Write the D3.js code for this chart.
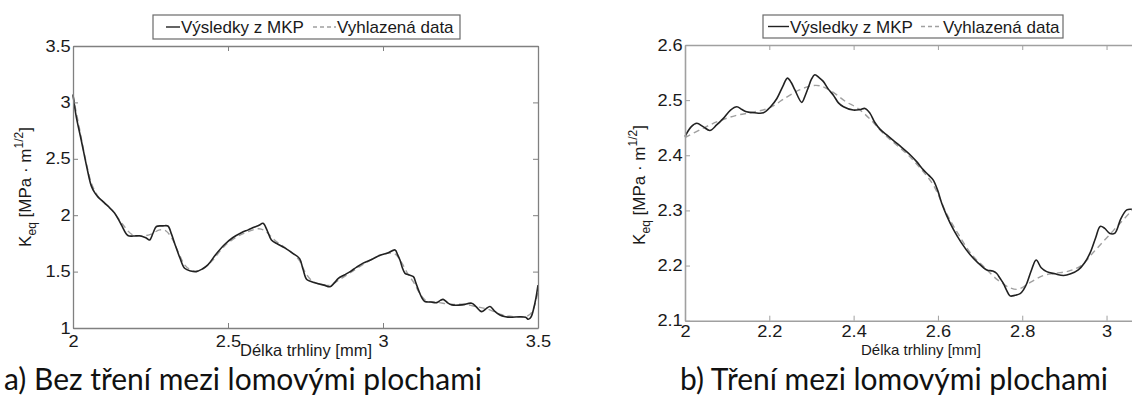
<!DOCTYPE html>
<html>
<head>
<meta charset="utf-8">
<script src="https://cdn.jsdelivr.net/npm/d3@7"></script>
<style>
  html, body { margin: 0; padding: 0; background: #fff; }
  svg { display: block; }
  .tick text { font-family: "Liberation Sans", Arial, sans-serif; fill: #1a1a1a; }
</style>
</head>
<body>
<script>
// ---- Panel a) crack length [mm] vs. K_eq, no friction ----
const lengthA = [2.000, 2.010, 2.027, 2.045, 2.059, 2.070, 2.081, 2.097, 2.113, 2.134, 2.155, 2.177, 2.195, 2.215, 2.235, 2.247, 2.258, 2.269, 2.290, 2.306, 2.318, 2.328, 2.345, 2.360, 2.380, 2.398, 2.415, 2.435, 2.460, 2.489, 2.515, 2.543, 2.565, 2.586, 2.600, 2.613, 2.627, 2.640, 2.660, 2.683, 2.710, 2.731, 2.742, 2.754, 2.770, 2.786, 2.810, 2.829, 2.843, 2.856, 2.875, 2.894, 2.915, 2.936, 2.965, 2.990, 3.015, 3.039, 3.047, 3.055, 3.063, 3.071, 3.085, 3.098, 3.106, 3.114, 3.125, 3.135, 3.155, 3.173, 3.185, 3.194, 3.210, 3.222, 3.255, 3.286, 3.300, 3.318, 3.332, 3.345, 3.360, 3.377, 3.395, 3.410, 3.442, 3.460, 3.469, 3.478, 3.485, 3.493, 3.500];
const femA = [3.07, 2.88, 2.66, 2.42, 2.26, 2.20, 2.16, 2.12, 2.08, 2.02, 1.92, 1.82, 1.815, 1.818, 1.80, 1.78, 1.84, 1.90, 1.905, 1.904, 1.83, 1.75, 1.62, 1.53, 1.505, 1.50, 1.52, 1.56, 1.65, 1.74, 1.80, 1.845, 1.87, 1.895, 1.91, 1.928, 1.86, 1.78, 1.745, 1.71, 1.66, 1.615, 1.52, 1.43, 1.41, 1.396, 1.38, 1.366, 1.40, 1.44, 1.47, 1.50, 1.54, 1.575, 1.61, 1.645, 1.665, 1.692, 1.65, 1.60, 1.53, 1.485, 1.47, 1.455, 1.40, 1.34, 1.27, 1.235, 1.23, 1.225, 1.245, 1.254, 1.22, 1.205, 1.205, 1.22, 1.19, 1.145, 1.17, 1.19, 1.15, 1.115, 1.10, 1.095, 1.10, 1.095, 1.077, 1.10, 1.16, 1.26, 1.38];
const smoothLengthA = [2.00, 2.02, 2.04, 2.06, 2.08, 2.10, 2.13, 2.16, 2.19, 2.22, 2.25, 2.28, 2.30, 2.32, 2.34, 2.36, 2.38, 2.40, 2.42, 2.45, 2.49, 2.53, 2.57, 2.60, 2.62, 2.65, 2.68, 2.71, 2.73, 2.75, 2.77, 2.80, 2.83, 2.86, 2.90, 2.94, 2.98, 3.02, 3.04, 3.06, 3.08, 3.10, 3.12, 3.14, 3.18, 3.22, 3.26, 3.30, 3.34, 3.38, 3.42, 3.46, 3.48, 3.50];
const smoothA = [3.06, 2.78, 2.50, 2.28, 2.17, 2.11, 2.03, 1.92, 1.83, 1.815, 1.83, 1.87, 1.86, 1.79, 1.67, 1.56, 1.515, 1.505, 1.525, 1.60, 1.73, 1.81, 1.86, 1.88, 1.86, 1.78, 1.72, 1.66, 1.60, 1.49, 1.42, 1.385, 1.38, 1.43, 1.50, 1.57, 1.63, 1.665, 1.655, 1.58, 1.48, 1.40, 1.30, 1.24, 1.225, 1.21, 1.21, 1.19, 1.165, 1.12, 1.10, 1.10, 1.14, 1.32];
const xTicksA = [2, 2.5, 3, 3.5];
const yTicksA = [1, 1.5, 2, 2.5, 3, 3.5];

// ---- Panel b) crack length [mm] vs. K_eq, with friction ----
const lengthB = [2.000, 2.015, 2.028, 2.043, 2.059, 2.075, 2.091, 2.108, 2.123, 2.135, 2.146, 2.165, 2.186, 2.203, 2.218, 2.232, 2.243, 2.252, 2.261, 2.277, 2.285, 2.293, 2.300, 2.308, 2.318, 2.328, 2.340, 2.352, 2.364, 2.376, 2.399, 2.415, 2.427, 2.439, 2.450, 2.463, 2.480, 2.494, 2.510, 2.534, 2.550, 2.565, 2.578, 2.589, 2.600, 2.609, 2.620, 2.637, 2.655, 2.676, 2.695, 2.716, 2.730, 2.739, 2.748, 2.755, 2.763, 2.771, 2.783, 2.795, 2.803, 2.811, 2.822, 2.833, 2.845, 2.858, 2.878, 2.898, 2.915, 2.933, 2.948, 2.961, 2.974, 2.985, 2.995, 3.008, 3.020, 3.034, 3.048, 3.060];
const femB = [2.434, 2.452, 2.458, 2.452, 2.445, 2.455, 2.467, 2.482, 2.488, 2.483, 2.479, 2.477, 2.477, 2.488, 2.503, 2.525, 2.540, 2.532, 2.518, 2.496, 2.508, 2.524, 2.538, 2.546, 2.541, 2.534, 2.520, 2.509, 2.495, 2.488, 2.482, 2.483, 2.485, 2.476, 2.460, 2.447, 2.436, 2.427, 2.417, 2.401, 2.388, 2.374, 2.364, 2.355, 2.335, 2.313, 2.292, 2.265, 2.242, 2.220, 2.205, 2.192, 2.190, 2.186, 2.176, 2.168, 2.155, 2.145, 2.146, 2.149, 2.156, 2.168, 2.192, 2.210, 2.196, 2.189, 2.185, 2.182, 2.185, 2.192, 2.205, 2.223, 2.250, 2.271, 2.268, 2.258, 2.259, 2.285, 2.301, 2.302];
const smoothLengthB = [2.00, 2.04, 2.08, 2.12, 2.16, 2.20, 2.24, 2.27, 2.30, 2.32, 2.35, 2.38, 2.41, 2.44, 2.47, 2.50, 2.53, 2.56, 2.59, 2.62, 2.65, 2.68, 2.71, 2.74, 2.77, 2.79, 2.82, 2.85, 2.88, 2.91, 2.94, 2.97, 3.00, 3.03, 3.06];
const smoothB = [2.432, 2.448, 2.462, 2.472, 2.478, 2.486, 2.505, 2.518, 2.526, 2.526, 2.515, 2.498, 2.485, 2.465, 2.440, 2.420, 2.400, 2.375, 2.345, 2.295, 2.255, 2.220, 2.197, 2.175, 2.160, 2.157, 2.170, 2.182, 2.186, 2.190, 2.200, 2.225, 2.250, 2.275, 2.300];
const xTicksB = [2, 2.2, 2.4, 2.6, 2.8, 3];
const yTicksB = [2.1, 2.2, 2.3, 2.4, 2.5, 2.6];

const legendLabels = ["Výsledky z MKP", "Vyhlazená data"];
const xTitle = "Délka trhliny [mm]";
const captionA = "a) Bez tření mezi lomovými plochami";
const captionB = "b) Tření mezi lomovými plochami";

const svg = d3.select("body").append("svg")
  .attr("width", 1132).attr("height", 401);

const fmt = d3.format("~g");

function panel(o) {
  const g = svg.append("g");
  const x = d3.scaleLinear().domain(o.xDomain).range(o.xRange);
  const y = d3.scaleLinear().domain(o.yDomain).range(o.yRange);

  // curves
  const line = d3.line().x(d => x(d[0])).y(d => y(d[1])).curve(d3.curveCatmullRom.alpha(0.5));
  g.append("path")
    .datum(d3.zip(o.smoothX, o.smoothY))
    .attr("d", line)
    .attr("fill", "none").attr("stroke", "#a0a0a0")
    .attr("stroke-width", 1.4).attr("stroke-dasharray", "6,4");
  g.append("path")
    .datum(d3.zip(o.femX, o.femY))
    .attr("d", line)
    .attr("fill", "none").attr("stroke", "#222")
    .attr("stroke-width", 1.6);

  // axes (ticks point inward, box on all four sides)
  const styleAxis = sel => {
    sel.select(".domain").attr("stroke", o.axisColor).attr("stroke-width", o.axisWidth);
    sel.selectAll(".tick line").attr("stroke", o.axisColor).attr("stroke-width", 1);
  };
  const styleLabels = sel => sel.selectAll("text")
    .style("font-size", "16px")
    .attr("transform", "scale(1.14,1)");
  const y0 = o.yRange[0], y1 = o.yRange[1], x0 = o.xRange[0], x1 = o.xRange[1];
  g.append("g").attr("transform", `translate(0,${y0})`)
    .call(d3.axisBottom(x).tickValues(o.xTicks).tickFormat(fmt).tickSizeInner(-5).tickSizeOuter(0).tickPadding(o.xPad))
    .call(styleAxis).call(styleLabels);
  g.append("g").attr("transform", `translate(0,${y1})`)
    .call(d3.axisTop(x).tickValues(o.xTicks).tickFormat("").tickSizeInner(-5).tickSizeOuter(0))
    .call(styleAxis);
  g.append("g").attr("transform", `translate(${x0},0)`)
    .call(d3.axisLeft(y).tickValues(o.yTicks).tickFormat(fmt).tickSizeInner(-5).tickSizeOuter(0).tickPadding(2))
    .call(styleAxis).call(styleLabels);
  g.append("g").attr("transform", `translate(${x1},0)`)
    .call(d3.axisRight(y).tickValues(o.yTicks).tickFormat("").tickSizeInner(-5).tickSizeOuter(0))
    .call(styleAxis);

  // x title
  g.append("text")
    .attr("x", o.xTitlePos[0]).attr("y", o.xTitlePos[1])
    .attr("text-anchor", "middle")
    .attr("font-family", "Liberation Sans, Arial, sans-serif")
    .attr("font-size", o.xTitleSize).attr("fill", "#1a1a1a")
    .text(xTitle);

  // y title: K_eq [MPa · m^(1/2)]
  const yt = g.append("text")
    .attr("transform", `translate(${o.yTitlePos[0]},${o.yTitlePos[1]}) rotate(-90)`)
    .attr("text-anchor", "middle")
    .attr("font-family", "Liberation Sans, Arial, sans-serif")
    .attr("font-size", 17).attr("fill", "#1a1a1a");
  yt.append("tspan").text("K");
  yt.append("tspan").attr("font-size", 12).attr("dy", 5).text("eq");
  yt.append("tspan").attr("dy", -5).text(" [MPa · m");
  yt.append("tspan").attr("font-size", 12).attr("dy", -8).text("1/2");
  yt.append("tspan").attr("dy", 8).text("]");

  // legend
  const L = o.legend;
  const lg = g.append("g");
  lg.append("rect").attr("x", L.x).attr("y", L.y).attr("width", L.w).attr("height", L.h)
    .attr("fill", "#fff").attr("stroke", "#6a6a6a").attr("stroke-width", 1.2);
  const cy = L.y + L.h / 2;
  lg.append("line").attr("x1", L.s1[0]).attr("x2", L.s1[1]).attr("y1", cy).attr("y2", cy)
    .attr("stroke", "#222").attr("stroke-width", 1.4);
  lg.append("text").attr("x", L.s1[1] + 1).attr("y", cy + 6)
    .attr("font-family", "Liberation Sans, Arial, sans-serif").attr("font-size", 17).attr("fill", "#1a1a1a")
    .text(legendLabels[0]);
  lg.append("line").attr("x1", L.s2[0]).attr("x2", L.s2[1]).attr("y1", cy).attr("y2", cy)
    .attr("stroke", "#a0a0a0").attr("stroke-width", 1.4).attr("stroke-dasharray", "4,3");
  lg.append("text").attr("x", L.s2[1] + 1).attr("y", cy + 6)
    .attr("font-family", "Liberation Sans, Arial, sans-serif").attr("font-size", 17).attr("fill", "#1a1a1a")
    .text(legendLabels[1]);

  // caption
  svg.append("text")
    .attr("x", o.caption.x).attr("y", 390)
    .attr("font-family", "Lato, 'Open Sans', sans-serif")
    .attr("font-size", 30).attr("fill", "#111")
    .attr("textLength", o.caption.len).attr("lengthAdjust", "spacingAndGlyphs")
    .text(o.caption.text);
}

panel({
  xDomain: [2, 3.5], yDomain: [1, 3.5],
  xRange: [73, 538], yRange: [328, 46],
  xTicks: xTicksA, yTicks: yTicksA, xPad: 8,
  femX: lengthA, femY: femA, smoothX: smoothLengthA, smoothY: smoothA,
  axisColor: "#808080", axisWidth: 1.3,
  xTitlePos: [306, 356], xTitleSize: 16.5,
  yTitlePos: [31, 187],
  legend: { x: 153, y: 15, w: 307, h: 24, s1: [166, 180], s2: [313, 336] },
  caption: { x: 4, len: 478, text: captionA }
});

panel({
  xDomain: [2, 3.1], yDomain: [2.1, 2.6],
  xRange: [685, 1148.7], yRange: [320.7, 45],
  xTicks: xTicksB, yTicks: yTicksB, xPad: 5,
  femX: lengthB, femY: femB, smoothX: smoothLengthB, smoothY: smoothB,
  axisColor: "#a0a0a0", axisWidth: 1.6,
  xTitlePos: [921, 355], xTitleSize: 15,
  yTitlePos: [645, 185],
  legend: { x: 763, y: 15, w: 300, h: 23, s1: [768, 789], s2: [921, 942] },
  caption: { x: 680, len: 428, text: captionB }
});
</script>
</body>
</html>
